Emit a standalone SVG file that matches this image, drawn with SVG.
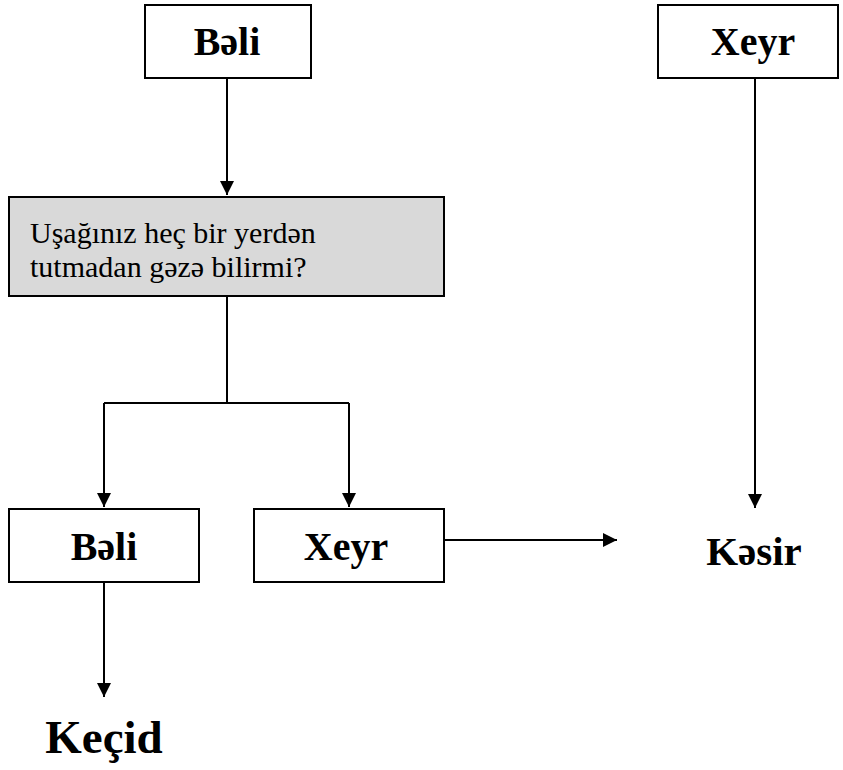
<svg xmlns="http://www.w3.org/2000/svg" width="843" height="770" viewBox="0 0 843 770">
<defs>
<marker id="ah" viewBox="0 0 10 10" refX="10" refY="5" markerWidth="7" markerHeight="7" orient="auto" markerUnits="strokeWidth">
<path d="M0,0 L10,5 L0,10 z" fill="#000"/>
</marker>
</defs>
<g id="connectors" fill="none" stroke="#000" stroke-width="2">
<path d="M227,78 V195" marker-end="url(#ah)"/>
<path d="M755,78 V508" marker-end="url(#ah)"/>
<path d="M227,296 V403"/>
<path d="M104,403 H349"/>
<path d="M104,403 V507" marker-end="url(#ah)"/>
<path d="M349,403 V507" marker-end="url(#ah)"/>
<path d="M444,540 H617" marker-end="url(#ah)"/>
<path d="M104,582 V697" marker-end="url(#ah)"/>
</g>
<g id="n-beli-top">
<rect x="145" y="5" width="166" height="73" fill="#fff" stroke="#000" stroke-width="2"/>
<text x="227" y="55" font-family="Liberation Serif, serif" font-weight="bold" font-size="40" text-anchor="middle">Bəli</text>
</g>
<g id="n-xeyr-top">
<rect x="658" y="5" width="180" height="73" fill="#fff" stroke="#000" stroke-width="2"/>
<text x="753" y="55" font-family="Liberation Serif, serif" font-weight="bold" font-size="40" text-anchor="middle">Xeyr</text>
</g>
<g id="n-question">
<rect x="9" y="197" width="435" height="99" fill="#d9d9d9" stroke="#000" stroke-width="2"/>
<text x="30" y="243" font-family="Liberation Serif, serif" font-size="30">Uşağınız heç bir yerdən</text>
<text x="30" y="277" font-family="Liberation Serif, serif" font-size="30">tutmadan gəzə bilirmi?</text>
</g>
<g id="n-beli-bottom">
<rect x="9" y="509" width="190" height="73" fill="#fff" stroke="#000" stroke-width="2"/>
<text x="104" y="560" font-family="Liberation Serif, serif" font-weight="bold" font-size="40" text-anchor="middle">Bəli</text>
</g>
<g id="n-xeyr-bottom">
<rect x="254" y="509" width="190" height="73" fill="#fff" stroke="#000" stroke-width="2"/>
<text x="346" y="560" font-family="Liberation Serif, serif" font-weight="bold" font-size="40" text-anchor="middle">Xeyr</text>
</g>
<g id="n-kesir">
<text x="754" y="565" font-family="Liberation Serif, serif" font-weight="bold" font-size="41" text-anchor="middle">Kəsir</text>
</g>
<g id="n-kecid">
<text x="104" y="753" font-family="Liberation Serif, serif" font-weight="bold" font-size="47" text-anchor="middle">Keçid</text>
</g>
</svg>
